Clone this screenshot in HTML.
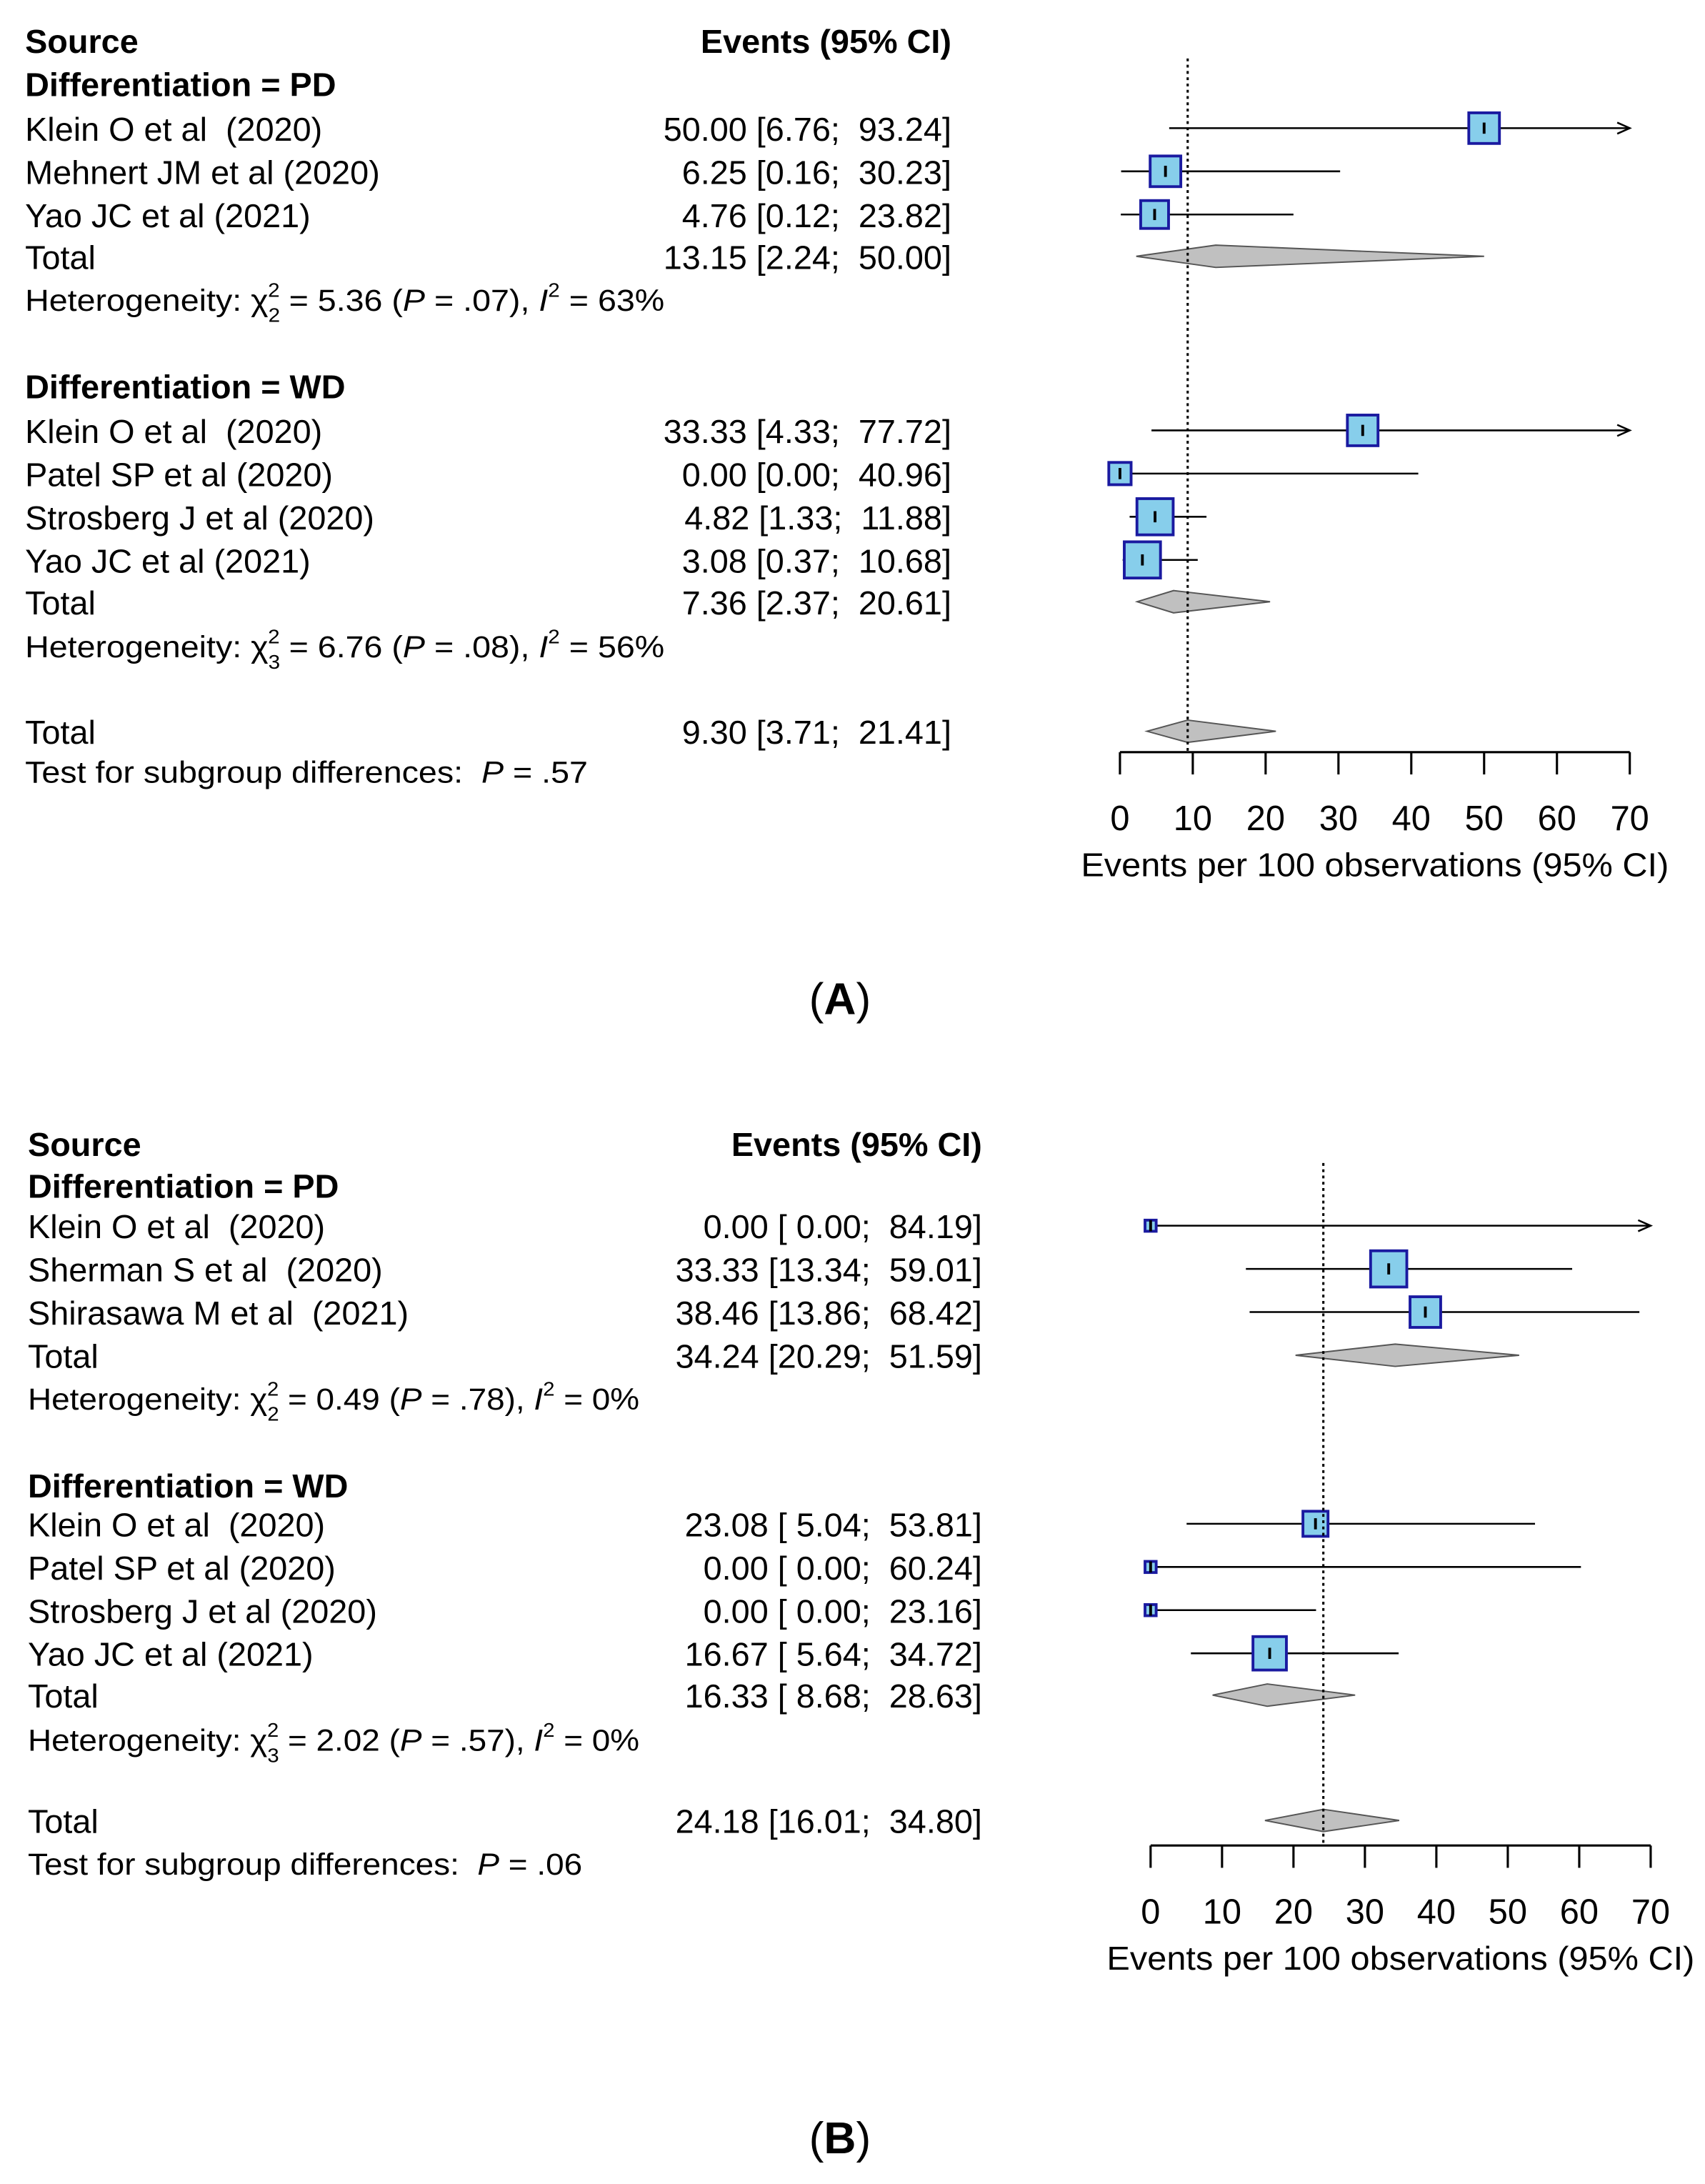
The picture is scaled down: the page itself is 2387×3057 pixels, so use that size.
<!DOCTYPE html>
<html><head><meta charset="utf-8"><style>
html,body{margin:0;padding:0;background:#fff;overflow:hidden;}
svg{display:block;}
text{font-family:"Liberation Sans",Arial,sans-serif;fill:#000;white-space:pre;}
</style></head><body>
<svg id="fig" width="2387" height="3057" viewBox="0 0 1224 1568" preserveAspectRatio="none" xmlns="http://www.w3.org/2000/svg"></svg>
<script>
// ---- Panel A data ----
const aLabels = ["Klein O et al  (2020)","Mehnert JM et al (2020)","Yao JC et al (2021)","Klein O et al  (2020)","Patel SP et al (2020)","Strosberg J et al (2020)","Yao JC et al (2021)"];
const aEst = [50.00,6.25,4.76,33.33,0.00,4.82,3.08];
const aLow = [6.76,0.16,0.12,4.33,0.00,1.33,0.37];
const aHigh = [93.24,30.23,23.82,77.72,40.96,11.88,10.68];
const aBox = [22,22,20,22,16,26,26];
const aTotEst = [13.15,7.36,9.30];
const aTotLow = [2.24,2.37,3.71];
const aTotHigh = [50.00,20.61,21.41];
const aTotStr = ["13.15 [2.24;  50.00]","7.36 [2.37;  20.61]","9.30 [3.71;  21.41]"];
const aStr = ["50.00 [6.76;  93.24]","6.25 [0.16;  30.23]","4.76 [0.12;  23.82]","33.33 [4.33;  77.72]","0.00 [0.00;  40.96]","4.82 [1.33;  11.88]","3.08 [0.37;  10.68]"];
// ---- Panel B data ----
const bLabels = ["Klein O et al  (2020)","Sherman S et al  (2020)","Shirasawa M et al  (2021)","Klein O et al  (2020)","Patel SP et al (2020)","Strosberg J et al (2020)","Yao JC et al (2021)"];
const bEst = [0.00,33.33,38.46,23.08,0.00,0.00,16.67];
const bLow = [0.00,13.34,13.86,5.04,0.00,0.00,5.64];
const bHigh = [84.19,59.01,68.42,53.81,60.24,23.16,34.72];
const bBox = [8,26,22,18,8,8,24];
const bTotEst = [34.24,16.33,24.18];
const bTotLow = [20.29,8.68,16.01];
const bTotHigh = [51.59,28.63,34.80];
const bTotStr = ["34.24 [20.29;  51.59]","16.33 [ 8.68;  28.63]","24.18 [16.01;  34.80]"];
const bStr = ["0.00 [ 0.00;  84.19]","33.33 [13.34;  59.01]","38.46 [13.86;  68.42]","23.08 [ 5.04;  53.81]","0.00 [ 0.00;  60.24]","0.00 [ 0.00;  23.16]","16.67 [ 5.64;  34.72]"];
const ticks = [0,10,20,30,40,50,60,70];

const NS="http://www.w3.org/2000/svg";
const svg=document.getElementById('fig');
function mk(tag,attrs,parent){const e=document.createElementNS(NS,tag);for(const k in attrs)e.setAttribute(k,attrs[k]);(parent||svg).appendChild(e);return e;}
function txt(parent,x,y,s,size,opts){const t=mk('text',{x:x,y:y,'font-size':size},parent);if(opts){for(const k in opts)t.setAttribute(k,opts[k]);}t.textContent=s;return t;}

function panel(P){
  const g=mk('g',{});
  
  
  const sx=v=>P.x0+(v)*(P.x70-P.x0)/70;
  let t;
  t=txt(g,P.tx,P.rows.src,"Source",24,{'font-weight':'bold'});
  t=txt(g,P.vx,P.rows.src,"Events (95% CI)",24,{'font-weight':'bold','text-anchor':'end'});
  const subs=["PD","WD"];
  const idx=[[0,1,2],[3,4,5,6]];
  for(let s=0;s<2;s++){
    t=txt(g,P.tx,P.rows.sub[s],"Differentiation = "+subs[s],24,{'font-weight':'bold'});
    
    
    idx[s].forEach((i,k)=>{
      const y=P.rows.study[s][k];
      t=txt(g,P.tx,y+9,P.labels[i],24);
      
      
      t=txt(g,P.vx,y+9,P.str[i],24,{'text-anchor':'end'});
      
      
      const hi=Math.min(P.high[i],70);
      const l=mk('line',{x1:sx(P.low[i]),x2:sx(hi),y1:y,y2:y,stroke:'#000','stroke-width':1.3},g);
      
      
      if(P.high[i]>70){
        const a=mk('path',{d:`M${sx(70)-9},${y-4} L${sx(70)},${y} L${sx(70)-9},${y+4}`,fill:'none',stroke:'#000','stroke-width':1.3},g);
        
        
      }
      const b=P.box[i];
      const r=mk('rect',{x:sx(P.est[i])-b/2,y:y-b/2,width:b,height:b,fill:'#87ceeb',stroke:'#1a1aa0','stroke-width':2},g);
      
      
      const m=mk('line',{x1:sx(P.est[i]),x2:sx(P.est[i]),y1:y-4,y2:y+4,stroke:'#000','stroke-width':2},g);
      
      
    });
    const ty=P.rows.tot[s];
    t=txt(g,P.tx,ty+9,"Total",24);
    t=txt(g,P.vx,ty+9,P.totStr[s],24,{'text-anchor':'end'});
    const h=mk('text',{x:P.tx,y:P.rows.het[s],'font-size':22,textLength:P.hetW,lengthAdjust:'spacingAndGlyphs'},g);
    
    
    h.innerHTML='Heterogeneity: χ<tspan font-size="14" dy="8">'+P.het[s][0]+'</tspan><tspan font-size="14" dx="-8" dy="-18">2</tspan><tspan dy="10"> = '+P.het[s][1]+' (</tspan><tspan font-style="italic">P</tspan><tspan> = '+P.het[s][2]+'), </tspan><tspan font-style="italic">I</tspan><tspan font-size="14" dy="-10">2</tspan><tspan dy="10"> = '+P.het[s][3]+'</tspan>';
  }
  t=txt(g,P.tx,P.rows.all+9,"Total",24);
  t=txt(g,P.vx,P.rows.all+9,P.totStr[2],24,{'text-anchor':'end'});
  const tst=mk('text',{x:P.tx,y:P.rows.test,'font-size':22,textLength:P.testW,lengthAdjust:'spacingAndGlyphs'},g);
  
  
  tst.innerHTML='Test for subgroup differences:  <tspan font-style="italic">P</tspan> = '+P.testP;
  const dy=[P.rows.tot[0],P.rows.tot[1],P.rows.all];
  for(let d=0;d<3;d++){
    const y=dy[d];
    const p=mk('path',{d:`M${sx(P.totLow[d])},${y} L${sx(P.totEst[d])},${y-8} L${sx(P.totHigh[d])},${y} L${sx(P.totEst[d])},${y+8} Z`,fill:'#c0c0c0',stroke:'#555','stroke-width':1},g);
    
    
  }
  const ref=mk('line',{x1:sx(P.totEst[2]),x2:sx(P.totEst[2]),y1:P.refTop,y2:P.axY,stroke:'#000','stroke-width':1.6,'stroke-dasharray':'2,2.5'},g);
  
  
  const ax=mk('line',{x1:sx(0),x2:sx(70),y1:P.axY,y2:P.axY,stroke:'#000','stroke-width':1.6},g);
  
  
  ticks.forEach(v=>{
    const tk=mk('line',{x1:sx(v),x2:sx(v),y1:P.axY,y2:P.axY+16,stroke:'#000','stroke-width':1.6},g);
    
    
    const tl=txt(g,sx(v),P.axY+56,String(v),25,{'text-anchor':'middle'});
    
    
  });
  const at=txt(g,(sx(0)+sx(70))/2,P.axY+89,"Events per 100 observations (95% CI)",24,{'text-anchor':'middle',textLength:422,lengthAdjust:'spacingAndGlyphs'});
  
  
  const cap=mk('text',{x:603,y:P.capY,'font-size':32,'text-anchor':'middle','font-family':'"Liberation Serif",serif'},g);
  
  
  cap.innerHTML='(<tspan font-weight="bold">'+P.cap+'</tspan>)';
}

panel({name:'panel-a',tx:18,vx:683,x0:804,x70:1170,axY:540,refTop:42,capY:728,cap:'A',hetW:459,testW:404,
  rows:{src:38,sub:[69,286],study:[[92,123,154],[309,340,371,402]],tot:[184,432],het:[223,472],all:525,test:562},
  labels:aLabels,est:aEst,low:aLow,high:aHigh,box:aBox,str:aStr,totEst:aTotEst,totLow:aTotLow,totHigh:aTotHigh,totStr:aTotStr,
  het:[["2","5.36",".07","63%"],["3","6.76",".08","56%"]],testP:'.57'});
panel({name:'panel-b',tx:20,vx:705,x0:826,x70:1185,axY:1325,refTop:835,capY:1546,cap:'B',hetW:439,testW:398,
  rows:{src:830,sub:[860,1075],study:[[880,911,942],[1094,1125,1156,1187]],tot:[973,1217],het:[1012,1257],all:1307,test:1346},
  labels:bLabels,est:bEst,low:bLow,high:bHigh,box:bBox,str:bStr,totEst:bTotEst,totLow:bTotLow,totHigh:bTotHigh,totStr:bTotStr,
  het:[["2","0.49",".78","0%"],["3","2.02",".57","0%"]],testP:'.06'});
</script>
</body></html>
